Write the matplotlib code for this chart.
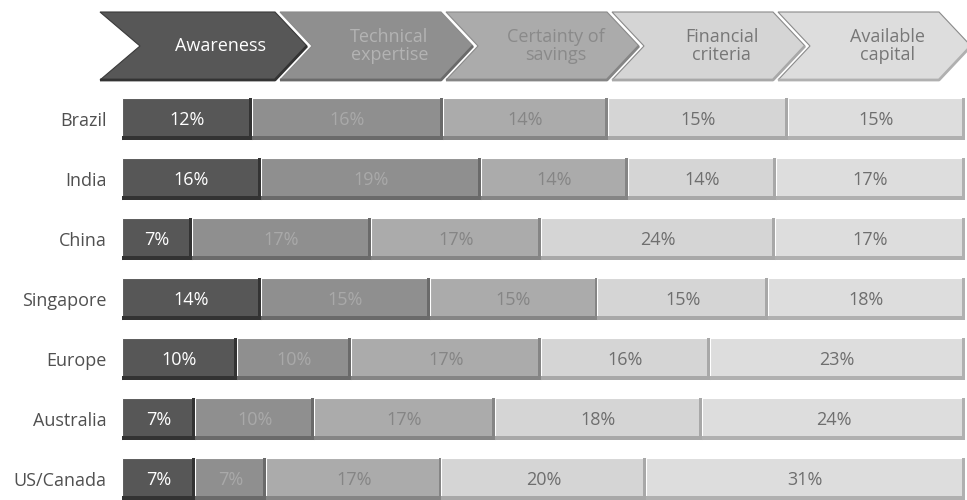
import matplotlib
matplotlib.use("Agg")
import matplotlib.pyplot as plt
from matplotlib.patches import Polygon
import numpy as np

plt.rcParams['font.family'] = ['Open Sans', 'DejaVu Sans']

countries = ["Brazil", "India", "China", "Singapore", "Europe", "Australia", "US/Canada"]
stages = ["Awareness", "Technical\nexpertise", "Certainty of\nsavings", "Financial\ncriteria", "Available\ncapital"]

# printed percentages
awareness = [12, 16, 7, 14, 10, 7, 7]
technical = [16, 19, 17, 15, 10, 10, 7]
certainty = [14, 14, 17, 15, 17, 17, 17]
financial = [15, 14, 24, 15, 16, 18, 20]
capital = [15, 17, 17, 18, 23, 24, 31]

# drawn segment lengths (share of full bar, %)
len_awareness = [15.4, 16.5, 8.3, 16.5, 13.6, 8.7, 8.7]
len_technical = [22.7, 26.1, 21.2, 20.0, 13.6, 14.1, 8.4]
len_certainty = [19.5, 17.4, 20.2, 19.9, 22.5, 21.4, 20.8]
len_financial = [21.4, 17.6, 27.8, 20.2, 20.0, 24.6, 24.2]
len_capital = [21.0, 22.4, 22.5, 23.4, 30.3, 31.2, 37.9]

seg_colors = ["#575757", "#8f8f8f", "#ababab", "#d5d5d5", "#dddddd"]
shade_colors = ["#333333", "#6a6a6a", "#858585", "#a8a8a8", "#b0b0b0"]
text_colors = ["#ffffff", "#a9a9a9", "#858585", "#6e6e6e", "#6e6e6e"]
head_text_colors = ["#ffffff", "#b3b3b3", "#8a8a8a", "#777777", "#777777"]

W, H = 967, 500
fig = plt.figure(figsize=(W / 100, H / 100), dpi=100)
fig.patch.set_facecolor("white")

# ---- header chevrons (pixel coordinate overlay) ----
axh = fig.add_axes([0, 0, 1, 1])
axh.set_xlim(0, W)
axh.set_ylim(H, 0)
axh.axis("off")
y_top, y_bot = 12, 80
y_mid = (y_top + y_bot) / 2
depth = 32
step = 166
first_tip = 307
prev_right = None
for i, (label, col, tcol) in enumerate(zip(stages, seg_colors, head_text_colors)):
    tip = first_tip + step * i
    right = tip - depth
    if i == 0:
        left = 100
        notch = left + 40
    else:
        left = prev_right + 5
        notch = left + depth
    pts = [(left, y_top), (right, y_top), (tip, y_mid), (right, y_bot), (left, y_bot), (notch, y_mid)]
    axh.add_patch(Polygon(pts, closed=True, facecolor=col, edgecolor="#8a8a8a" if i > 0 else "#3a3a3a",
                          lw=0.8, zorder=5 - i * 0.1))
    axh.plot([left, right, tip], [y_bot, y_bot, y_mid], color=shade_colors[i], lw=2.0, zorder=5 - i * 0.1,
             solid_capstyle="butt")
    cx = (notch + tip) / 2 - 3
    axh.text(cx, y_mid, label, ha="center", va="center", fontsize=13, color=tcol,
             linespacing=1.0, zorder=6)
    prev_right = right

# ---- bars ----
ax = fig.add_axes([122 / W, (H - 509) / H, (965 - 122) / W, 420 / H])
labels = np.array([awareness, technical, certainty, financial, capital])
lengths = np.array([len_awareness, len_technical, len_certainty, len_financial, len_capital], dtype=float)
shares = lengths / lengths.sum(axis=0) * 100
y = np.arange(len(countries))
bh = 0.7
left = np.zeros(len(countries))
for k in range(5):
    ax.barh(y, shares[k], left=left, height=bh, color=seg_colors[k], edgecolor="white", lw=0.8, zorder=2)
    ax.barh(y + bh / 2 - 0.035, shares[k], left=left, height=0.07, color=shade_colors[k], lw=0, zorder=3)
    ax.barh(y, 0.35, left=left + shares[k] - 0.35, height=bh, color=shade_colors[k], lw=0, zorder=3)
    for j in range(len(countries)):
        ax.text(left[j] + shares[k][j] / 2, y[j] + 0.02, f"{labels[k][j]}%", ha="center", va="center",
                fontsize=13, color=text_colors[k], zorder=4)
    left += shares[k]

ax.set_xlim(0, 100)
ax.set_ylim(6.5, -0.5)
ax.set_yticks(y)
ax.set_yticklabels(countries, fontsize=13, color="#505050")
ax.tick_params(axis="y", length=0, pad=11)
ax.set_xticks([])
for s in ax.spines.values():
    s.set_visible(False)
ax.patch.set_alpha(0)

fig.savefig("out.png", dpi=100, facecolor="white")
